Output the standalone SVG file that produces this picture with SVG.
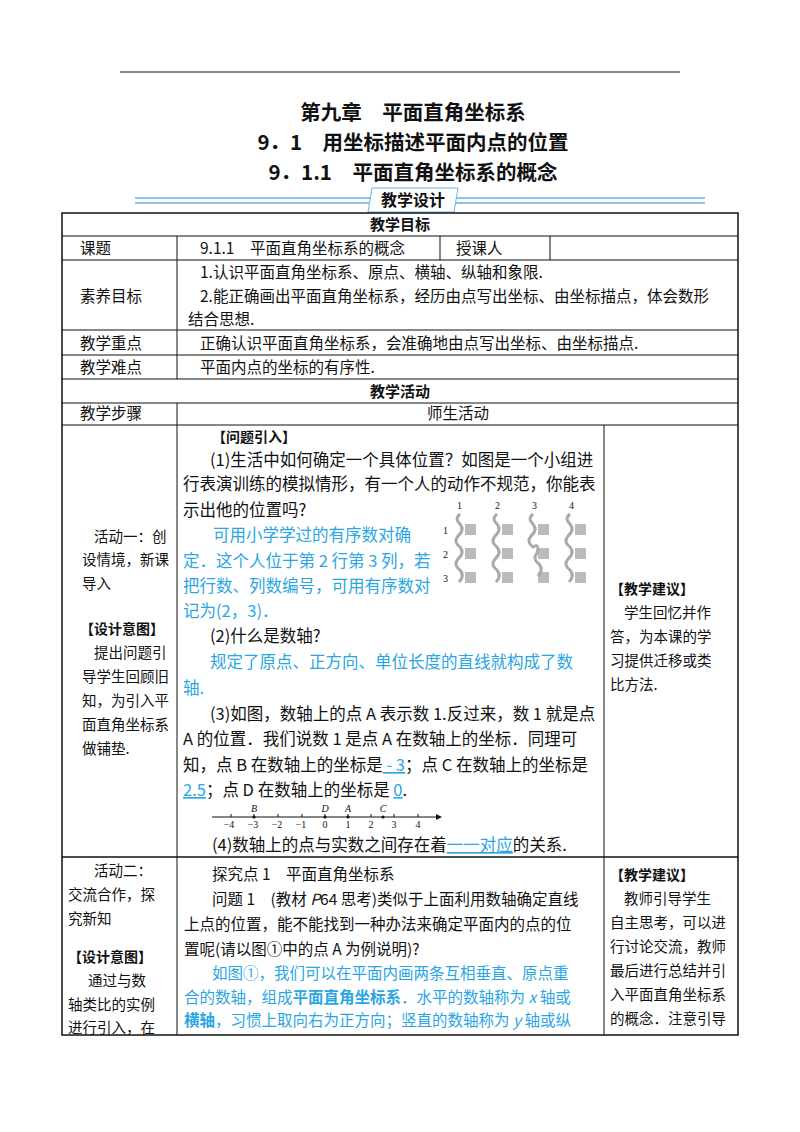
<svg xmlns="http://www.w3.org/2000/svg" width="800" height="1132" viewBox="0 0 800 1132">
<style>
text{font-family:"Liberation Serif","Noto Sans CJK SC",serif;font-size:15px;fill:#111}
.h{font-family:"Noto Sans CJK SC",sans-serif;font-weight:bold;font-size:20.5px;text-anchor:middle}
.b{font-family:"Noto Sans CJK SC",sans-serif;font-weight:bold;font-size:14px}
.c{text-anchor:middle}
.bl{fill:#2aa6e2}
.s{font-family:"Noto Sans CJK SC",sans-serif;font-size:14.5px}
.t{font-family:"Noto Sans CJK SC",sans-serif;font-size:15.5px}
.m{font-family:"Noto Sans CJK SC",sans-serif;font-size:16.5px}
.g{stroke:#111;fill:none;stroke-width:1}
.sm{font-size:10px}
.nl{font-size:10px}
</style>
<rect width="800" height="1132" fill="#fff"/>
<line x1="120" y1="72" x2="680" y2="72" stroke="#111" stroke-width="1.2"/>
<g id="titles">
<text class="h" x="413" y="120">第九章　平面直角坐标系</text>
<text class="h" x="413" y="150">9．1　用坐标描述平面内点的位置</text>
<text class="h" x="413" y="180">9．1.1　平面直角坐标系的概念</text>
</g>
<g id="banner">
<line x1="135" y1="198" x2="705" y2="198" stroke="#8cc3ea" stroke-width="2"/>
<line x1="135" y1="203" x2="705" y2="203" stroke="#8cc3ea" stroke-width="2"/>
<path d="M372 188 H458 L454 212 H368 Z" fill="#fff" stroke="#6fb3e3"/>
<text class="b" x="413" y="206" text-anchor="middle" style="font-size:16px">教学设计</text>
</g>
<g id="table" class="g">
<rect x="62" y="213" width="676" height="822" stroke-width="1.5"/>
<line x1="62" y1="236" x2="738" y2="236"/>
<line x1="62" y1="260" x2="738" y2="260"/>
<line x1="62" y1="330" x2="738" y2="330"/>
<line x1="62" y1="355" x2="738" y2="355"/>
<line x1="62" y1="379" x2="738" y2="379"/>
<line x1="62" y1="403" x2="738" y2="403"/>
<line x1="62" y1="425" x2="738" y2="425"/>
<line x1="62" y1="857" x2="738" y2="857" stroke-width="1.5"/>
<line x1="177" y1="236" x2="177" y2="379"/>
<line x1="177" y1="403" x2="177" y2="1035"/>
<line x1="440" y1="236" x2="440" y2="260"/>
<line x1="550" y1="236" x2="550" y2="260"/>
<line x1="604" y1="425" x2="604" y2="1035"/>
</g>
<g id="tabletext">
<text class="b c" x="400" y="230" style="font-size:15px">教学目标</text>
<text class="t" x="80" y="254">课题</text>
<text class="t" x="200" y="254">9.1.1　平面直角坐标系的概念</text>
<text class="t" x="456" y="254">授课人</text>
<text class="t" x="80" y="302">素养目标</text>
<text class="t" x="200" y="278">1.认识平面直角坐标系、原点、横轴、纵轴和象限.</text>
<text class="t" x="200" y="302">2.能正确画出平面直角坐标系，经历由点写出坐标、由坐标描点，体会数形</text>
<text class="t" x="188" y="325">结合思想.</text>
<text class="t" x="80" y="349">教学重点</text>
<text class="t" x="200" y="349">正确认识平面直角坐标系，会准确地由点写出坐标、由坐标描点.</text>
<text class="t" x="80" y="373">教学难点</text>
<text class="t" x="200" y="373">平面内点的坐标的有序性.</text>
<text class="b c" x="400" y="397" style="font-size:15px">教学活动</text>
<text class="t" x="80" y="419">教学步骤</text>
<text class="t c" x="458" y="419">师生活动</text>
</g>
<g id="act1left">
<text class="s" x="94" y="542">活动一：创</text>
<text class="s" x="82" y="565">设情境，新课</text>
<text class="s" x="82" y="589">导入</text>
<text class="b" x="80" y="634">【设计意图】</text>
<text class="s" x="94" y="658">提出问题引</text>
<text class="s" x="82" y="682">导学生回顾旧</text>
<text class="s" x="82" y="706">知，为引入平</text>
<text class="s" x="82" y="730">面直角坐标系</text>
<text class="s" x="82" y="754">做铺垫.</text>
</g>
<g id="act1right">
<text class="b" x="610" y="594">【教学建议】</text>
<text class="s" x="624" y="618">学生回忆并作</text>
<text class="s" x="610" y="642">答，为本课的学</text>
<text class="s" x="610" y="666">习提供迁移或类</text>
<text class="s" x="610" y="690">比方法.</text>
</g>
<g id="act1mid">
<text class="b" x="212" y="442">【问题引入】</text>
<text class="m" x="210" y="466">(1)生活中如何确定一个具体位置？如图是一个小组进</text>
<text class="m" x="183" y="490">行表演训练的模拟情形，有一个人的动作不规范，你能表</text>
<text class="m" x="183" y="516">示出他的位置吗?</text>
<text class="m bl" x="213" y="541">可用小学学过的有序数对确</text>
<text class="m bl" x="183" y="567">定．这个人位于第 2 行第 3 列，若</text>
<text class="m bl" x="183" y="592">把行数、列数编号，可用有序数对</text>
<text class="m bl" x="183" y="617">记为(2，3)．</text>
<text class="m" x="210" y="642">(2)什么是数轴?</text>
<text class="m bl" x="210" y="668">规定了原点、正方向、单位长度的直线就构成了数</text>
<text class="m bl" x="183" y="694">轴.</text>
<text class="m" x="210" y="720">(3)如图，数轴上的点 A 表示数 1.反过来，数 1 就是点</text>
<text class="m" x="183" y="745">A 的位置．我们说数 1 是点 A 在数轴上的坐标．同理可</text>
<text class="m" x="183" y="771">知，点 B 在数轴上的坐标是<tspan class="bl" text-decoration="underline"> - 3</tspan>；点 C 在数轴上的坐标是</text>
<text class="m" x="183" y="796"><tspan class="bl" text-decoration="underline">2.5</tspan>；点 D 在数轴上的坐标是 <tspan class="bl" text-decoration="underline">0</tspan>.</text>
<text class="m" x="212" y="851">(4)数轴上的点与实数之间存在着<tspan class="bl" text-decoration="underline">一一对应</tspan>的关系.</text>
</g>
<g id="figure">
<g class="sm"><text class="sm" x="457" y="509">1</text><text class="sm" x="495" y="509">2</text><text class="sm" x="532" y="509">3</text><text class="sm" x="569" y="509">4</text>
<text class="sm" x="443" y="534">1</text><text class="sm" x="443" y="558">2</text><text class="sm" x="443" y="582">3</text></g>
<g fill="#bbb">
<rect x="465" y="524" width="11" height="11"/><rect x="502" y="524" width="11" height="11"/><rect x="538" y="524" width="11" height="11"/><rect x="575" y="524" width="11" height="11"/>
<rect x="465" y="548" width="11" height="11"/><rect x="502" y="548" width="11" height="11"/><rect x="538" y="548" width="11" height="11"/><rect x="575" y="548" width="11" height="11"/>
<rect x="465" y="572" width="11" height="11"/><rect x="502" y="572" width="11" height="11"/><rect x="538" y="572" width="11" height="11"/><rect x="575" y="572" width="11" height="11"/>
</g>
<g stroke="#aaa" stroke-width="3" fill="none">
<path d="M460 514 q-6 5 0 10 q5 6 -2 12 q-5 6 2 11 q5 6 -2 12 q-5 6 2 11 q5 6 -1 12"/>
<path d="M497 514 q-6 5 0 10 q5 6 -2 12 q-5 6 2 11 q5 6 -2 12 q-5 6 2 11 q5 6 -1 12"/>
<path d="M533 514 q-6 5 0 10 q5 6 -2 12 q-5 6 2 11 q7 -4 4 6 q-5 6 2 11 q5 6 -1 12"/>
<path d="M570 514 q-6 5 0 10 q5 6 -2 12 q-5 6 2 11 q5 6 -2 12 q-5 6 2 11 q5 6 -1 12"/>
</g>
</g>
<g id="numberline">
<line x1="212" y1="817" x2="436" y2="817" stroke="#111"/>
<path d="M436 814 L442 817 L436 820 Z" fill="#111"/>
<g stroke="#111">
<line x1="231" y1="814" x2="231" y2="817"/><line x1="254" y1="814" x2="254" y2="817"/><line x1="278" y1="814" x2="278" y2="817"/><line x1="302" y1="814" x2="302" y2="817"/><line x1="325" y1="814" x2="325" y2="817"/><line x1="348" y1="814" x2="348" y2="817"/><line x1="371" y1="814" x2="371" y2="817"/><line x1="394" y1="814" x2="394" y2="817"/><line x1="418" y1="814" x2="418" y2="817"/>
</g>
<g fill="#111"><circle cx="254" cy="817" r="1.6"/><circle cx="325" cy="817" r="1.6"/><circle cx="348" cy="817" r="1.6"/><circle cx="383" cy="817" r="1.6"/></g>
<g class="nl" text-anchor="middle">
<text class="nl" x="229" y="828">−4</text><text class="nl" x="253" y="828">−3</text><text class="nl" x="277" y="828">−2</text><text class="nl" x="301" y="828">−1</text><text class="nl" x="325" y="828">0</text><text class="nl" x="348" y="828">1</text><text class="nl" x="371" y="828">2</text><text class="nl" x="394" y="828">3</text><text class="nl" x="418" y="828">4</text>
<text class="nl" x="254" y="812" font-style="italic">B</text><text class="nl" x="325" y="812" font-style="italic">D</text><text class="nl" x="348" y="812" font-style="italic">A</text><text class="nl" x="383" y="812" font-style="italic">C</text>
</g>
</g>
<g id="act2left">
<text class="s" x="94" y="876">活动二：</text>
<text class="s" x="68" y="900">交流合作，探</text>
<text class="s" x="68" y="924">究新知</text>
<text class="b" x="68" y="962">【设计意图】</text>
<text class="s" x="88" y="986">通过与数</text>
<text class="s" x="68" y="1010">轴类比的实例</text>
<text class="s" x="68" y="1033">进行引入，在</text>
</g>
<g id="act2mid">
<text class="t" x="212" y="880">探究点 1　平面直角坐标系</text>
<text class="t" x="212" y="905">问题 1　(教材 <tspan font-style="italic">P</tspan>64 思考)类似于上面利用数轴确定直线</text>
<text class="t" x="184" y="930">上点的位置，能不能找到一种办法来确定平面内的点的位</text>
<text class="t" x="184" y="955">置呢(请以图①中的点 A 为例说明)?</text>
<text class="t bl" x="212" y="979">如图①，我们可以在平面内画两条互相垂直、原点重</text>
<text class="t bl" x="184" y="1003">合的数轴，组成<tspan font-weight="bold">平面直角坐标系</tspan>．水平的数轴称为 <tspan font-style="italic">x</tspan> 轴或</text>
<text class="t bl" x="184" y="1026"><tspan font-weight="bold">横轴</tspan>，习惯上取向右为正方向；竖直的数轴称为 <tspan font-style="italic">y</tspan> 轴或纵</text>
</g>
<g id="act2right">
<text class="b" x="610" y="880">【教学建议】</text>
<text class="s" x="624" y="904">教师引导学生</text>
<text class="s" x="610" y="928">自主思考，可以进</text>
<text class="s" x="610" y="952">行讨论交流，教师</text>
<text class="s" x="610" y="976">最后进行总结并引</text>
<text class="s" x="610" y="1000">入平面直角坐标系</text>
<text class="s" x="610" y="1024">的概念．注意引导</text>
</g>
</svg>
